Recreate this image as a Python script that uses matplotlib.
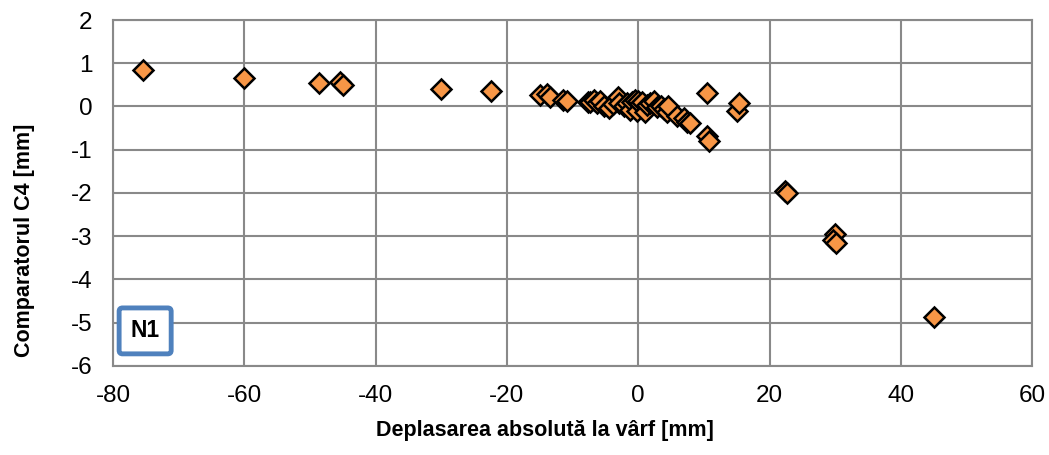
import matplotlib.pyplot as plt

plt.rcParams['font.family'] = ['Liberation Sans', 'DejaVu Sans']
plt.rcParams['axes.unicode_minus'] = False

# date
deplasare = [-75.4, -60.0, -48.6, -45.5, -45.0, -30.0, -22.4, -15.0, -13.9, -13.4,
             -11.4, -10.8, -7.6, -7.4, -6.8, -6.3, -5.8, -5.2, -4.5, -3.8,
             -3.1, -2.9, -2.2, -1.7, -1.2, -0.9, -0.5, -0.2, 0.0, 0.3,
             0.6, 1.1, 1.3, 1.8, 2.4, 2.9, 3.4, 3.9, 4.4, 4.6,
             5.9, 6.9, 7.4, 7.9, 10.5, 10.5, 10.7, 15.0, 15.3, 22.4,
             22.6, 29.9, 29.7, 30.1, 45.0]
comparator = [0.85, 0.66, 0.54, 0.56, 0.49, 0.40, 0.35, 0.27, 0.29, 0.22,
              0.15, 0.13, 0.11, 0.10, 0.15, 0.08, 0.12, 0.02, -0.04, 0.05,
              0.23, 0.08, 0.00, 0.08, -0.08, 0.10, 0.15, -0.10, 0.12, 0.05,
              0.10, -0.12, 0.04, 0.08, 0.12, -0.02, 0.02, -0.06, -0.12, 0.02,
              -0.21, -0.27, -0.35, -0.38, 0.31, -0.68, -0.81, -0.10, 0.09, -1.96,
              -2.00, -2.95, -3.09, -3.16, -4.86]

xticks = [-80, -60, -40, -20, 0, 20, 40, 60]
yticks = [2, 1, 0, -1, -2, -3, -4, -5, -6]

fig = plt.figure(figsize=(10.49, 4.55), dpi=100)
ax = fig.add_axes([0.1077, 0.196, 0.8763, 0.760])

ax.plot(deplasare, comparator, linestyle='none', marker='D', markersize=10.5,
        markerfacecolor='#F79646', markeredgecolor='black', markeredgewidth=1.8,
        zorder=3)

ax.set_xlim(-80, 60)
ax.set_ylim(-6, 2)
ax.set_xticks(xticks)
ax.set_yticks(yticks)
ax.grid(True, color='#898989', linewidth=1.5)
ax.set_axisbelow(True)
for s in ax.spines.values():
    s.set_color('#898989')
    s.set_linewidth(1.5)

# cifrele de pe axe sunt intr-un font ingust
ax.tick_params(length=0)
ax.tick_params(axis='y', pad=15)
ax.tick_params(axis='x', pad=14)
for lbl in ax.get_xticklabels() + ax.get_yticklabels():
    lbl.set_family(['Liberation Sans Narrow', 'Liberation Sans'])
    lbl.set_fontsize(17.5)

ax.set_xlabel('Deplasarea absolută la vârf [mm]', fontsize=15.5, fontweight='bold', va='center')
ax.set_ylabel('Comparatorul C4 [mm]', fontsize=15.5, fontweight='bold', va='center')
ax.xaxis.set_label_coords(0.47, -0.188)
ax.yaxis.set_label_coords(-0.096, 0.364)

ax.text(0.035, 0.101, 'N1', transform=ax.transAxes, ha='center', va='center',
        fontsize=16.5, fontweight='bold', zorder=5,
        bbox=dict(boxstyle='round,pad=0.5,rounding_size=0.15', facecolor='white',
                  edgecolor='#4F81BD', linewidth=3.5))

fig.savefig('out.png', dpi=100)
